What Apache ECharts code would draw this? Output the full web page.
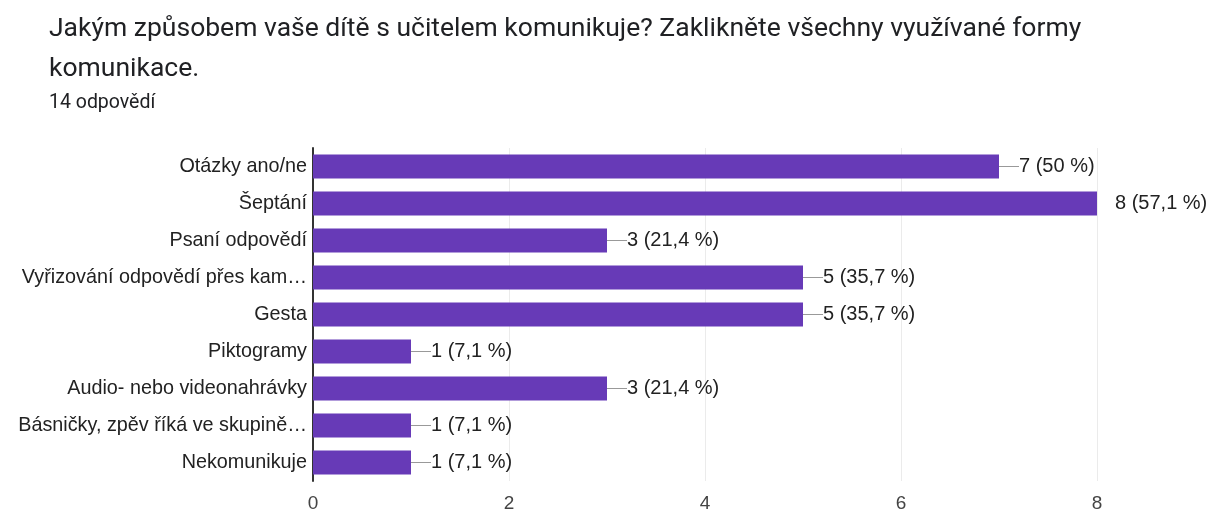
<!DOCTYPE html>
<html>
<head>
<meta charset="utf-8">
<script src="https://cdn.jsdelivr.net/npm/echarts@6/dist/echarts.min.js"></script>
<style>
  html, body { margin: 0; padding: 0; background: #fff; }
  #main { width: 1209px; height: 513px; }
</style>
</head>
<body>
<div id="main"></div>
<script>
// kategorie (shora dolu)
var categories = ['Otázky ano/ne', 'Šeptání', 'Psaní odpovědí', 'Vyřizování odpovědí přes kam…',
  'Gesta', 'Piktogramy', 'Audio- nebo videonahrávky', 'Básničky, zpěv říká ve skupině…', 'Nekomunikuje'];
var counts = [7, 8, 3, 5, 5, 1, 3, 1, 1];
var percents = ['50', '57,1', '21,4', '35,7', '35,7', '7,1', '21,4', '7,1', '7,1'];
var xTicks = [0, 2, 4, 6, 8];

var myChart = echarts.init(document.getElementById('main'));

// data s vodici carou (u maxima bez cary)
var barData = counts.map(function (v, i) {
  return i === 1 ? { value: v, labelLine: { show: false } } : v;
});

var option = {
  animation: false,
  textStyle: { fontFamily: 'Roboto' },
  title: [
    {
      text: 'Jakým způsobem vaše dítě s učitelem komunikuje? Zaklikněte všechny využívané formy\nkomunikace.',
      left: 49, top: 9, padding: 0,
      textStyle: { fontSize: 26.5, fontWeight: 'normal', color: '#202124', lineHeight: 40, fontFamily: 'Roboto' }
    },
    {
      text: '14 odpovědí',
      left: 49, top: 92, padding: 0,
      textStyle: { fontSize: 19.5, fontWeight: 'normal', color: '#202124', lineHeight: 22, fontFamily: 'Roboto' }
    }
  ],
  grid: { left: 313, right: 112, top: 148, bottom: 28, containLabel: false },
  xAxis: {
    type: 'value',
    min: xTicks[0], max: xTicks[xTicks.length - 1], interval: 2,
    axisLine: { show: false },
    axisTick: { show: false },
    splitLine: { show: true, lineStyle: { color: '#ebebeb', width: 1 } },
    axisLabel: { color: '#444', fontSize: 19, margin: 13, fontFamily: 'Arial' }
  },
  yAxis: {
    type: 'category',
    data: categories,
    inverse: true,
    axisLine: { show: true, lineStyle: { color: '#333', width: 2 } },
    axisTick: { show: false },
    axisLabel: { color: '#222', fontSize: 19.8, margin: 6, fontFamily: 'Arial' }
  },
  series: [{
    type: 'bar',
    data: barData,
    barCategoryGap: '35%',
    itemStyle: { color: '#673ab7' },
    label: {
      show: true,
      position: 'right',
      distance: 0,
      color: '#222',
      fontSize: 20,
      fontFamily: 'Arial',
      formatter: function (p) {
        return counts[p.dataIndex] + ' (' + percents[p.dataIndex] + ' %)';
      }
    },
    labelLayout: function (params) {
      return { dx: params.dataIndex === 1 ? 18 : 20 };
    },
    labelLine: {
      show: true,
      lineStyle: { color: '#999', width: 1 }
    }
  }]
};

myChart.setOption(option);
</script>
</body>
</html>
